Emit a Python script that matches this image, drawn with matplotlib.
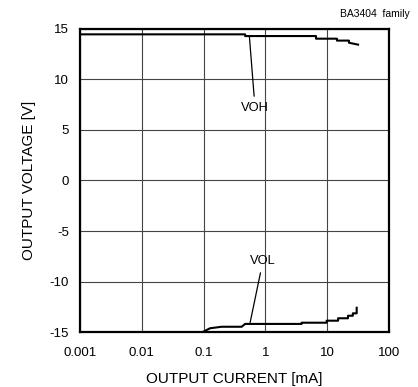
import numpy as np
import matplotlib.pyplot as plt

plt.rcParams['font.family'] = ['Liberation Sans', 'DejaVu Sans']
plt.rcParams['axes.unicode_minus'] = False

# VOH curve (output current mA, output voltage V)
voh_i = [0.001, 0.47, 0.47, 6.6, 6.6, 14.4, 14.4, 22.5, 22.5, 31.6]
voh_v = [14.47, 14.47, 14.3, 14.3, 14.04, 14.04, 13.85, 13.85, 13.64, 13.45]

# VOL curve
vol_i = [0.097, 0.127, 0.196, 0.413, 0.47, 3.86, 3.86, 9.8, 9.8, 15, 15, 21.7, 21.7, 26, 26, 30, 30]
vol_v = [-15.0, -14.63, -14.48, -14.48, -14.2, -14.2, -14.08, -14.08, -13.88, -13.88, -13.64, -13.64, -13.39, -13.39, -13.15, -13.15, -12.6]

xticks = [0.001, 0.01, 0.1, 1, 10, 100]
xticklabels = ['0.001', '0.01', '0.1', '1', '10', '100']
yticks = [-15, -10, -5, 0, 5, 10, 15]

fig = plt.figure(figsize=(4.18, 3.87), dpi=100)
ax = fig.add_axes([0.1914, 0.1421, 0.7392, 0.783])

ax.plot(voh_i, voh_v, color='black', linewidth=1.5)
ax.plot(vol_i, vol_v, color='black', linewidth=1.5)

ax.set_xscale('log')
ax.set_xlim(0.001, 100)
ax.set_ylim(-15, 15)
ax.set_xticks(xticks)
ax.set_xticklabels(xticklabels)
ax.set_yticks(yticks)
ax.minorticks_off()
ax.tick_params(length=0, labelsize=9.5)
ax.tick_params(axis='x', pad=11)
ax.tick_params(axis='y', pad=8)
ax.grid(True, color='#444444', linewidth=0.8)
for s in ax.spines.values():
    s.set_linewidth(1.6)

ax.set_xlabel('OUTPUT CURRENT [mA]', fontsize=11, labelpad=9)
ax.set_ylabel('OUTPUT VOLTAGE [V]', fontsize=11, labelpad=10)

# annotations
ax.annotate('VOH', xy=(0.55, 14.3), xytext=(0.68, 7.2), fontsize=9.3,
            ha='center', va='center',
            arrowprops=dict(arrowstyle='-', color='black', lw=0.9, shrinkB=0, shrinkA=2))
ax.annotate('VOL', xy=(0.56, -14.2), xytext=(0.91, -8.0), fontsize=9.3,
            ha='center', va='center',
            arrowprops=dict(arrowstyle='-', color='black', lw=0.9, shrinkB=0, shrinkA=2))

fig.text(0.98, 0.965, 'BA3404  family', fontsize=7.5, ha='right', va='center')

plt.savefig('out.png', dpi=100)
